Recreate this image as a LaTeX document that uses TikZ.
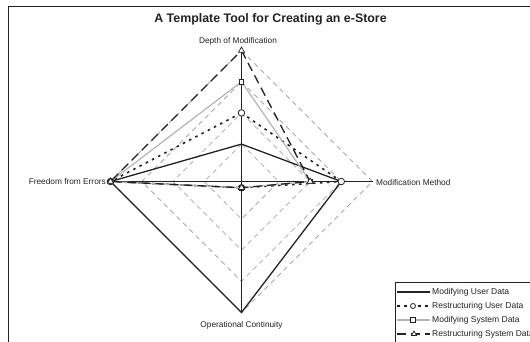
\documentclass[tikz,border=0pt]{standalone}
\usepackage{fontspec}
\setmainfont{Liberation Sans}
\usetikzlibrary{shapes.geometric,calc}
\definecolor{ink}{HTML}{222222}
\definecolor{gridgray}{HTML}{A8A8A8}
\definecolor{lightser}{HTML}{B4B4B4}

\begin{document}
\begin{tikzpicture}[x=1pt,y=-1pt,
  gridline/.style={gridgray, line width=0.8pt, dash pattern=on 5pt off 4pt},
  spoke/.style={ink, line width=1pt},
  serA/.style={ink, line width=1.3pt, line join=miter},
  serB/.style={ink, line width=1.6pt, dash pattern=on 2.5pt off 4.5pt},
  serC/.style={lightser, line width=1.2pt},
  serD/.style={ink, line width=1.3pt, dash pattern=on 9pt off 5pt},
  mkcirc/.style={circle, draw=ink, fill=white, line width=0.8pt, inner sep=0pt, minimum size=6.5pt},
  mksq/.style={rectangle, draw=ink, fill=white, line width=0.7pt, inner sep=0pt, minimum size=4.5pt},
  mktri/.style={regular polygon, regular polygon sides=3, draw=ink, fill=white, line width=0.7pt, inner sep=0pt, minimum size=7pt},
  lbl/.style={text=ink, font=\fontsize{8.3}{10}\selectfont, inner sep=0pt},
  legtxt/.style={text=ink, font=\fontsize{8.5}{10}\selectfont, inner sep=0pt, anchor=west},
]
\useasboundingbox (0,0) rectangle (530,341);
\clip (0,0) rectangle (530,341);

% chart frame
\draw[ink, line width=1pt] (8,6) rectangle (560,370);

% title
\node[text=ink, font=\fontsize{12.4}{14}\selectfont\bfseries, inner sep=0pt] (title) at (270.5,19) {A Template Tool for Creating an e-Store};

% axis ends and centre
\coordinate (ctr) at (241.5,181.5);
\coordinate (axT) at (241.5,50.5);
\coordinate (axR) at (372.5,181.5);
\coordinate (axB) at (241.5,312.5);
\coordinate (axL) at (110.5,181.5);

% grid rings at values 1..4 (scale -0.2 .. 4)
\foreach \v in {1,2,3,4}{
  \pgfmathsetmacro{\r}{131*(\v+0.2)/4.2}
  \draw[gridline] ($(ctr)+(0,-\r)$) -- ($(ctr)+(\r,0)$) -- ($(ctr)+(0,\r)$) -- ($(ctr)+(-\r,0)$) -- cycle;
}

% spokes
\draw[spoke] (axL) -- (axR);
\draw[spoke] (axT) -- (axB);

% axis labels
\node[lbl] (lT) at (238,41) {Depth of Modification};
\node[lbl, anchor=west] (lR) at (376,182.5) {Modification Method};
\node[lbl, anchor=east] (lL) at (106,182) {Freedom from Errors};
\node[lbl] (lB) at (241.5,325) {Operational Continuity};

% data points
\coordinate (a1) at (241.5,144.07); \coordinate (a2) at (341.31,181.5);
\coordinate (a3) at (241.5,312.5);  \coordinate (a4) at (110.5,181.5);
\coordinate (b1) at (241.5,112.88); \coordinate (b2) at (341.31,181.5);
\coordinate (b3) at (241.5,187.74); \coordinate (b4) at (110.5,181.5);
\coordinate (c1) at (241.5,81.69);  \coordinate (c2) at (310.12,181.5);
\coordinate (c3) at (241.5,187.74); \coordinate (c4) at (110.5,181.5);
\coordinate (d1) at (241.5,50.5);   \coordinate (d2) at (310.12,181.5);
\coordinate (d3) at (241.5,187.74); \coordinate (d4) at (110.5,181.5);

% Modifying User Data
\draw[serA] (a1) -- (a2) -- (a3) -- (a4) -- cycle;
% Restructuring User Data
\draw[serB] (b1) -- (b2) -- (b3) -- (b4) -- cycle;
\foreach \p in {b1,b2,b3,b4} \node[mkcirc] at (\p) {};
% Modifying System Data
\draw[serC] (c1) -- (c2) -- (c3) -- (c4) -- cycle;
\foreach \p in {c1,c2,c3,c4} \node[mksq] at (\p) {};
% Restructuring System Data
\draw[serD] (d1) -- (d2) -- (d3) -- (d4) -- cycle;
\foreach \p in {d1,d2,d3,d4} \node[mktri] at (\p) {};

% legend
\draw[ink, line width=0.8pt, fill=white] (395,282) rectangle (570,370);
\coordinate (s1a) at (397,292); \coordinate (s1b) at (430,292);
\coordinate (s2a) at (397,306); \coordinate (s2b) at (430,306);
\coordinate (s3a) at (397,320); \coordinate (s3b) at (430,320);
\coordinate (s4a) at (397,334); \coordinate (s4b) at (430,334);
\draw[serA] (s1a) -- (s1b);
\draw[serB] (s2a) -- (s2b);
\node[mkcirc, minimum size=5pt] (m2) at (413,306) {};
\draw[serC] (s3a) -- (s3b);
\node[mksq] (m3) at (413,320) {};
\draw[serD] (s4a) -- (s4b);
\node[mktri, minimum size=6pt] (m4) at (414,334) {};
\node[legtxt] (t1) at (432,292) {Modifying User Data};
\node[legtxt] (t2) at (432,306) {Restructuring User Data};
\node[legtxt] (t3) at (432,320) {Modifying System Data};
\node[legtxt] (t4) at (432,334) {Restructuring System Data};
\end{tikzpicture}
\end{document}
